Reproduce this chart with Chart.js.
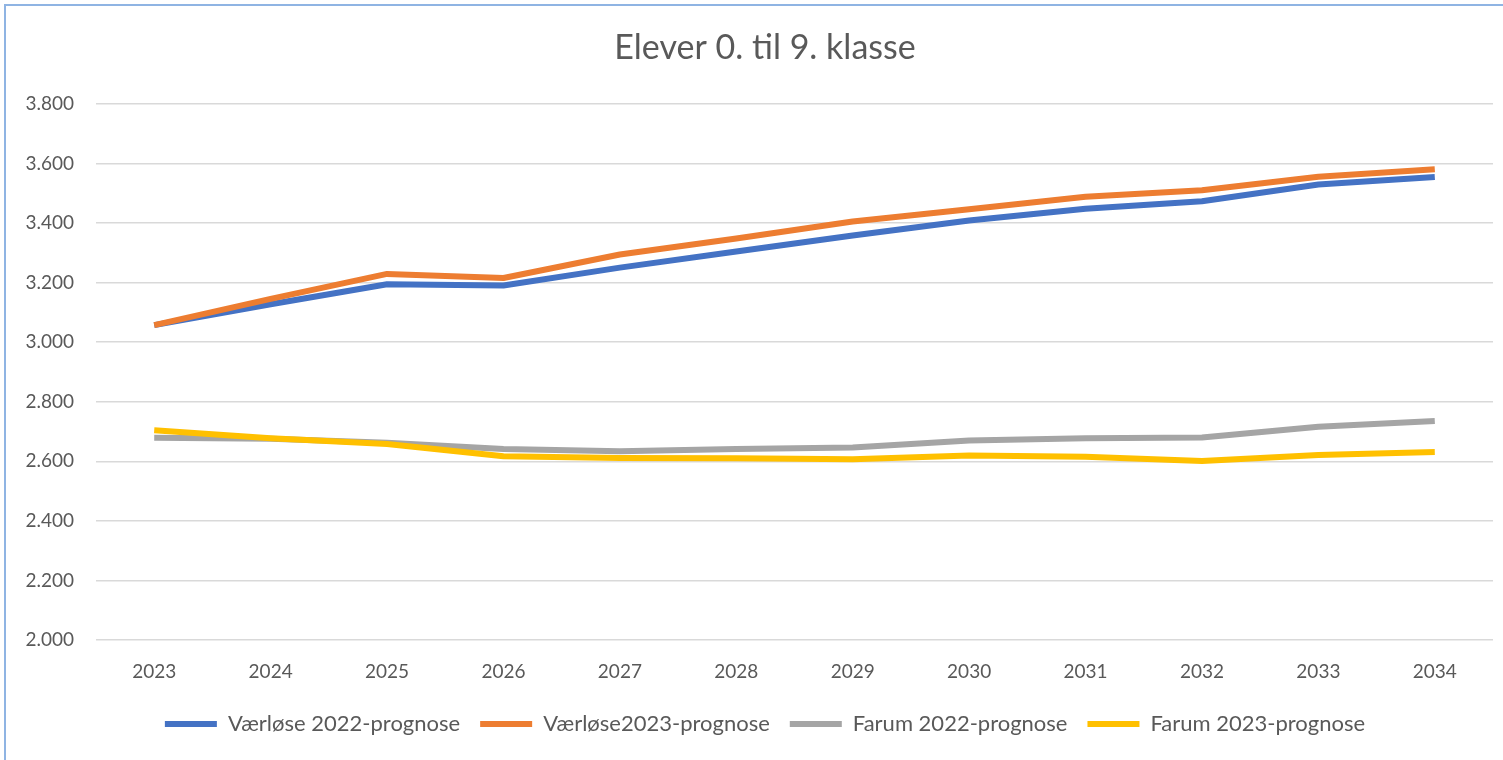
<!DOCTYPE html>
<html>
<head>
<meta charset="utf-8">
<script src="https://cdn.jsdelivr.net/npm/chart.js@4"></script>
<style>
  html, body { margin: 0; padding: 0; background: #fff; overflow: hidden; width: 1503px; height: 760px; }
  #frame {
    position: absolute; left: 4px; top: 4px; width: 1600px; height: 900px;
    border-left: 2px solid #8fb4e3; border-top: 2px solid #8fb4e3;
  }
  #wrap { position: absolute; left: 0; top: 0; width: 1512px; height: 760px; }
</style>
</head>
<body>
<div id="frame"></div>
<div id="wrap"><canvas id="elever"></canvas></div>
<script>
// Chart data
const years = ['2023', '2024', '2025', '2026', '2027', '2028', '2029', '2030', '2031', '2032', '2033', '2034'];
const vaerlose2022 = [3057, 3127, 3194, 3190, 3250, 3304, 3358, 3408, 3448, 3473, 3529, 3554];
const vaerlose2023 = [3057, 3145, 3229, 3215, 3294, 3348, 3405, 3446, 3488, 3510, 3555, 3580];
const farum2022 = [2679, 2676, 2662, 2641, 2634, 2641, 2646, 2670, 2677, 2680, 2716, 2735];
const farum2023 = [2704, 2677, 2658, 2617, 2611, 2610, 2607, 2619, 2615, 2601, 2621, 2631];
const seriesNames = ['Værløse 2022-prognose', 'Værløse2023-prognose', 'Farum 2022-prognose', 'Farum 2023-prognose'];
const seriesColors = ['#4472c4', '#ed7d31', '#a5a5a5', '#ffc000'];
const yMin = 2000, yMax = 3800, yStep = 200;

const textColor = '#595959';
const fontFamily = 'Lato, "Noto Sans", sans-serif';

// Danish thousand separator
const fmt = (v) => {
    const s = String(Math.round(v));
    return s.replace(/\B(?=(\d{3})+(?!\d))/g, '.');
}

const makeSet = (i, values) => {
    return {
        label: seriesNames[i],
        data: values,
        borderColor: seriesColors[i],
        backgroundColor: seriesColors[i],
        borderWidth: 6,
        pointRadius: 0,
        pointHoverRadius: 0,
        tension: 0,
        borderJoinStyle: 'round',
        order: 4 - i // later series on top, like Excel
    }
}

const data = {
    labels: years,
    datasets: [
        makeSet(0, vaerlose2022),
        makeSet(1, vaerlose2023),
        makeSet(2, farum2022),
        makeSet(3, farum2023)
    ]
}

// Flat legend swatches without the thick outline
const legendLabels = (chart) => {
    const items = Chart.defaults.plugins.legend.labels.generateLabels(chart);
    items.forEach(item => {
        item.lineWidth = 0;
        item.strokeStyle = 'rgba(0,0,0,0)';
    });
    return items;
}

const config = {
    type: 'line',
    data: data,
    options: {
        responsive: true,
        maintainAspectRatio: false,
        animation: false,
        layout: { padding: { left: 18, right: 0, top: 0, bottom: 15 } },
        plugins: {
            title: {
                display: true,
                text: 'Elever 0. til 9. klasse',
                color: textColor,
                font: { family: fontFamily, size: 34, weight: 'normal', lineHeight: 1.2 },
                padding: { top: 28, bottom: 35 }
            },
            legend: {
                position: 'bottom',
                labels: {
                    color: textColor,
                    font: { family: fontFamily, size: 22 },
                    boxWidth: 52,
                    boxHeight: 6,
                    padding: 20,
                    generateLabels: legendLabels,
                    sort: (a, b) => a.datasetIndex - b.datasetIndex
                }
            },
            tooltip: { enabled: false }
        },
        scales: {
            x: {
                offset: true,
                grid: { display: false },
                border: { display: false },
                ticks: {
                    color: textColor,
                    font: { family: fontFamily, size: 19 },
                    padding: 12,
                    maxRotation: 0
                },
                afterFit: (scale) => { scale.height = 53; }
            },
            y: {
                min: yMin,
                max: yMax,
                grid: { color: '#d9d9d9', lineWidth: 1.5, drawTicks: false },
                border: { display: false },
                ticks: {
                    stepSize: yStep,
                    color: textColor,
                    font: { family: fontFamily, size: 19 },
                    padding: 22,
                    callback: (v) => fmt(v)
                },
                afterFit: (scale) => { scale.width = 78; }
            },
            // empty right-hand spacer so the plot ends where the original does
            yRight: {
                position: 'right',
                min: yMin,
                max: yMax,
                grid: { display: false },
                border: { display: false },
                ticks: { display: false },
                afterFit: (scale) => { scale.width = 19; }
            }
        }
    }
}

const eleverChart = new Chart(document.getElementById('elever'), config);
</script>
</body>
</html>
